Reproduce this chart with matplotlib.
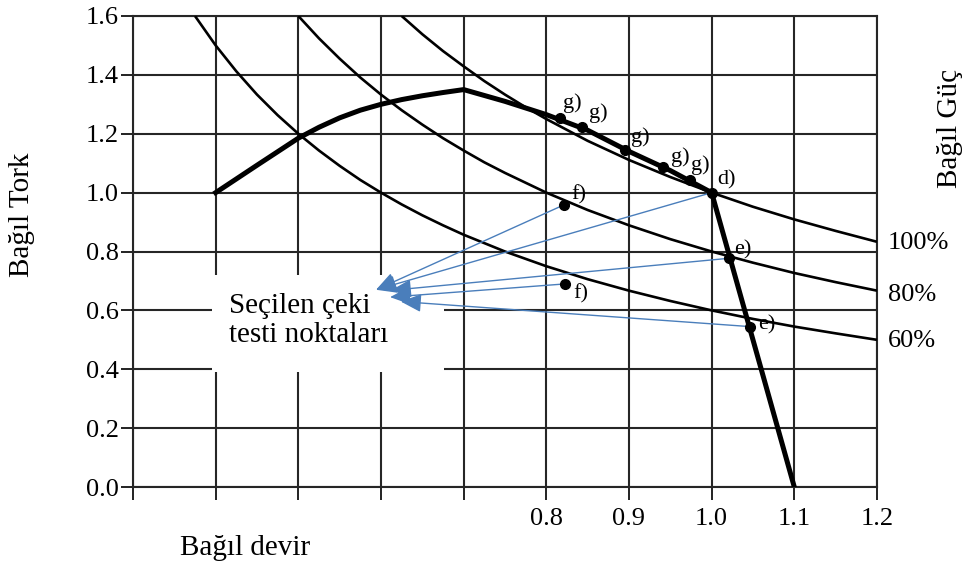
import matplotlib.pyplot as plt
from matplotlib.patches import Rectangle, FancyArrowPatch

plt.rcParams['font.family'] = ['Liberation Serif', 'DejaVu Serif']

# Sabit güç eğrileri (bağıl devir -> bağıl tork)
guc100_n = [0.625, 0.65, 0.675, 0.7, 0.725, 0.75, 0.775, 0.8, 0.85, 0.9, 0.95, 1.0, 1.05, 1.1,
            1.15, 1.2]
guc100_t = [1.6, 1.538, 1.481, 1.429, 1.379, 1.333, 1.29, 1.25, 1.176, 1.111, 1.053, 1.0, 0.952,
            0.909, 0.870, 0.833]

guc80_n = [0.5, 0.525, 0.55, 0.575, 0.6, 0.625, 0.65, 0.675, 0.7, 0.725, 0.75, 0.8, 0.85, 0.9,
           0.95, 1.0, 1.05, 1.1, 1.15, 1.2]
guc80_t = [1.6, 1.524, 1.455, 1.391, 1.333, 1.28, 1.231, 1.185, 1.143, 1.103, 1.067, 1.0, 0.941,
           0.889, 0.842, 0.8, 0.762, 0.727, 0.696, 0.667]

guc60_n = [0.375, 0.4, 0.425, 0.45, 0.475, 0.5, 0.525, 0.55, 0.575, 0.6, 0.625, 0.65, 0.675, 0.7,
           0.75, 0.8, 0.85, 0.9, 0.95, 1.0, 1.05, 1.1, 1.15, 1.2]
guc60_t = [1.6, 1.5, 1.412, 1.333, 1.263, 1.2, 1.143, 1.091, 1.043, 1.0, 0.96, 0.923, 0.889, 0.857,
           0.8, 0.75, 0.706, 0.667, 0.632, 0.6, 0.571, 0.545, 0.522, 0.5]

guc_etiket = ['100%', '80%', '60%']
guc_etiket_t = [0.829, 0.652, 0.496]

# Motor tork eğrisi (kalın çizgi)
tork_n = [0.4, 0.45, 0.5, 0.525, 0.55, 0.575, 0.6, 0.625, 0.65, 0.675, 0.7, 0.75, 0.8, 0.85,
          0.9, 0.95, 1.0, 1.1]
tork_t = [1.0, 1.093, 1.185, 1.222, 1.254, 1.28, 1.30, 1.316, 1.329, 1.34, 1.35, 1.31, 1.265,
          1.212, 1.14, 1.075, 1.0, 0.0]

# Seçilen çeki testi noktaları
nokta_n = [0.8165, 0.843, 0.895, 0.9415, 0.974, 1.0, 0.821, 0.823, 1.021, 1.046]
nokta_t = [1.252, 1.224, 1.145, 1.086, 1.043, 1.0, 0.958, 0.690, 0.777, 0.545]
nokta_etiket = ['g)', 'g)', 'g)', 'g)', 'g)', 'd)', 'f)', 'f)', 'e)', 'e)']

# ok hedefleri (metin kutusu yanında)
ok_kaynak = [6, 5, 8, 7, 9]
ok_hedef_n = [0.594, 0.594, 0.612, 0.611, 0.624]
ok_hedef_t = [0.670, 0.670, 0.668, 0.645, 0.630]

x_ticks = [0.3, 0.4, 0.5, 0.6, 0.7, 0.8, 0.9, 1.0, 1.1, 1.2]
x_tick_labels = ['', '', '', '', '', '0.8', '0.9', '1.0', '1.1', '1.2']
y_ticks = [0.0, 0.2, 0.4, 0.6, 0.8, 1.0, 1.2, 1.4, 1.6]

fig = plt.figure(figsize=(9.73, 5.65), dpi=100)
ax = fig.add_axes([0.1367, 0.138, 0.7646, 0.8337])

ax.set_xlim(0.3, 1.2)
ax.set_ylim(0.0, 1.6)
ax.set_xticks(x_ticks)
ax.set_xticklabels(x_tick_labels)
ax.set_yticks(y_ticks)
ax.set_yticklabels([f'{v:.1f}' for v in y_ticks])
ax.tick_params(axis='both', length=9, width=1.4, color='#222222', labelsize=19, pad=1)
ax.tick_params(axis='x', pad=6)
ax.grid(True, color='#262626', linewidth=1.5)
ax.set_axisbelow(True)
for s in ax.spines.values():
    s.set_color('#262626')
    s.set_linewidth(1.5)

# metin kutusu (ızgarayı örten beyaz alan)
ax.add_patch(Rectangle((0.3956, 0.39), 0.281, 0.33, facecolor='white', edgecolor='none', zorder=1))
ax.text(0.416, 0.567, 'Seçilen çeki\ntesti noktaları', fontsize=21, ha='left', va='center',
        linespacing=1.15, zorder=3)

for n, t in [(guc100_n, guc100_t), (guc80_n, guc80_t), (guc60_n, guc60_t)]:
    ax.plot(n, t, color='black', linewidth=1.9, zorder=3, solid_capstyle='butt')

ax.plot(tork_n, tork_t, color='black', linewidth=3.6, zorder=4, solid_joinstyle='miter')

for lab, t in zip(guc_etiket, guc_etiket_t):
    ax.text(1.213, t, lab, fontsize=19, ha='left', va='center', clip_on=False)

# oklar
for k, hn, ht in zip(ok_kaynak, ok_hedef_n, ok_hedef_t):
    ok = FancyArrowPatch((nokta_n[k], nokta_t[k]), (hn, ht),
                         arrowstyle='-|>,head_length=0.9,head_width=0.4', mutation_scale=14,
                         color='#4a7ebb', linewidth=1.0, shrinkA=0, shrinkB=0, zorder=5)
    ax.add_patch(ok)

ax.plot(nokta_n, nokta_t, 'o', color='black', markersize=7, zorder=6)

etiket_ofset = [(9, 11), (12, 10), (11, 9), (12, 7), (7, 11), (11, 9), (11, 7), (11, -7), (10, 6), (12, 1)]
for n, t, lab, (dx, dy) in zip(nokta_n, nokta_t, nokta_etiket, etiket_ofset):
    ax.annotate(lab, (n, t), xytext=(dx, dy), textcoords='offset points', fontsize=16,
                ha='center', va='center', zorder=7)

fig.text(0.0226, 0.619, 'Bağıl Tork', rotation=90, fontsize=21, ha='center', va='center')
fig.text(0.976, 0.773, 'Bağıl Güç', rotation=90, fontsize=21, ha='center', va='center')
fig.text(0.252, 0.030, 'Bağıl devir', fontsize=21, ha='center', va='center')

fig.savefig('out.png', dpi=100)
